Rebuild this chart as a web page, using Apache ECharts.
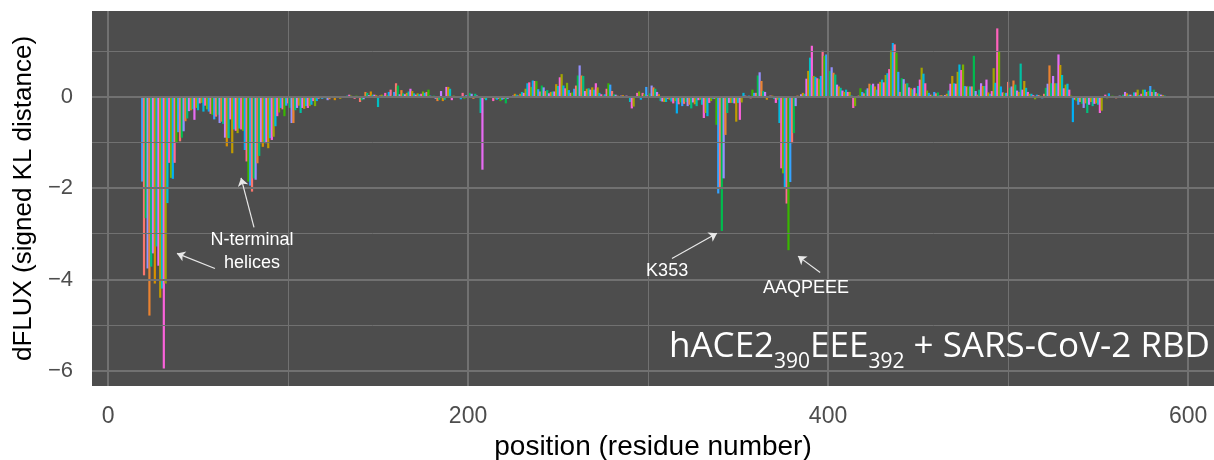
<!DOCTYPE html>
<html>
<head>
<meta charset="utf-8">
<title>dFLUX hACE2 390EEE392</title>
<script src="https://cdn.jsdelivr.net/npm/echarts@6/dist/echarts.min.js"></script>
<style>
  html, body { margin: 0; padding: 0; background: #fff; }
  #chart { width: 1214px; height: 460px; }
</style>
</head>
<body>
<div id="chart"></div>
<script>
// dFLUX per residue (one value per position)
const helixStart = 19; // 19-118, N-terminal helices
const helixValues = [
  -1.86, -3.91, -2.66, -3.76, -4.79, -3.72, -3.43, -4.09, -3.28, -3.70,
  -4.40, -4.20, -5.95, -4.09, -2.33, -1.45, -1.78, -1.80, -1.45, -1.00,
  -0.78, -0.98, -0.90, -0.76, -0.54, -0.48, -0.32, -0.30, -0.28, -0.51,
  -0.25, -0.30, -0.15, -0.14, -0.33, -0.20, -0.28, -0.33, -0.38, -0.40,
  -0.50, -0.44, -0.40, -0.58, -0.55, -0.60, -0.90, -1.09, -0.91, -0.50,
  -1.24, -0.72, -0.75, -0.80, -0.70, -0.72, -0.75, -1.17, -1.42, -1.86,
  -1.95, -2.08, -1.79, -1.82, -1.46, -1.30, -1.02, -1.10, -1.02, -1.02,
  -1.13, -0.91, -0.95, -0.88, -0.65, -0.43, -0.35, -0.25, -0.28, -0.43,
  -0.20, -0.15, -0.25, -0.58, -0.58, -0.30, -0.25, -0.20, -0.36, -0.25,
  -0.27, -0.21, -0.25, -0.21, -0.18, -0.10, -0.21, -0.10, -0.05, -0.04,
];
const midStart = 119; // 119-228
const midValues = [
  -0.05, -0.03, -0.04, -0.08, -0.06, -0.03, -0.03, -0.08, -0.02, -0.03,
  -0.05, -0.02, 0.01, -0.02, 0.02, 0.04, 0.02, -0.01, -0.05, 0.02,
  0.01, -0.12, -0.08, -0.06, 0.10, 0.08, 0.03, 0.11, 0.04, 0.04,
  0.03, -0.23, 0.02, 0.04, 0.02, 0.08, 0.03, 0.10, 0.15, 0.02,
  0.10, 0.29, 0.24, 0.05, 0.14, 0.07, 0.05, 0.08, 0.11, 0.17,
  0.12, 0.07, 0.04, 0.07, 0.05, 0.06, 0.11, 0.08, 0.10, 0.15,
  0.02, 0.01, 0.02, -0.05, -0.10, -0.07, 0.12, -0.10, -0.07, 0.21,
  0.21, 0.17, -0.08, 0.02, 0.01, -0.03, 0.01, -0.06, 0.08, -0.05,
  0.03, 0.05, 0.08, 0.06, -0.05, 0.06, 0.02, 0.01, -0.36, -1.60,
  -0.05, -0.08, -0.02, -0.03, -0.02, -0.10, -0.05, -0.07, -0.05, -0.10,
  -0.07, -0.05, -0.15, -0.05, -0.02, 0.01, 0.02, 0.06, 0.04, 0.02,
];
const loopStart = 229; // 229-328
const loopValues = [
  0.06, 0.10, 0.08, 0.17, 0.29, 0.31, 0.21, 0.35, 0.34, 0.34,
  0.16, 0.11, 0.24, 0.20, 0.12, 0.14, 0.07, 0.10, 0.11, 0.11,
  0.27, 0.23, 0.42, 0.49, 0.24, 0.18, 0.30, 0.14, 0.08, 0.09,
  0.17, 0.24, 0.46, 0.68, 0.46, 0.45, 0.12, 0.17, 0.18, 0.15,
  0.20, 0.15, 0.29, 0.20, 0.08, 0.05, 0.02, 0.05, 0.17, 0.29,
  0.26, 0.12, 0.05, 0.04, 0.02, 0.01, 0.02, 0.03, 0.01, 0.02,
  -0.03, -0.12, -0.26, -0.22, -0.02, 0.08, 0.11, -0.07, 0.08, 0.05,
  0.21, 0.03, 0.07, 0.24, 0.20, 0.17, 0.10, 0.05, -0.10, -0.11,
  -0.12, -0.12, -0.05, -0.07, -0.11, -0.15, -0.10, -0.37, -0.17, -0.13,
  -0.21, -0.16, -0.12, -0.21, -0.18, -0.26, -0.13, -0.17, -0.21, -0.08,
];
const interfaceStart = 329; // 329-398, K353 and AAQPEEE dips
const interfaceValues = [
  -0.07, -0.18, -0.47, -0.36, -0.43, -0.14, -0.10, -0.05, -0.05, -0.62,
  -2.12, -2.02, -2.94, -1.79, -0.84, -0.36, -0.14, -0.14, -0.14, -0.15,
  -0.55, -0.14, -0.51, -0.13, 0.08, 0.02, 0.01, 0.02, -0.04, 0.15,
  0.08, 0.08, 0.46, 0.53, 0.34, 0.12, 0.10, -0.07, 0.01, 0.02,
  0.02, -0.05, -0.14, -0.07, -0.58, -1.57, -1.68, -2.00, -2.34, -3.36,
  -1.87, -1.02, -0.80, -0.21, 0.02, 0.01, 0.05, 0.08, 0.06, 0.39,
  0.56, 0.85, 1.11, 0.45, 0.43, 0.40, 0.38, 0.45, 1.00, 0.89,
];
const peptidaseStart = 399; // 399-498
const peptidaseValues = [
  0.92, 0.30, 0.56, 0.64, 0.52, 0.48, 0.26, 0.22, 0.19, 0.13,
  0.10, 0.15, 0.10, 0.10, 0.02, -0.25, -0.21, 0.01, 0.02, 0.18,
  0.10, 0.07, 0.15, 0.18, 0.28, 0.25, 0.28, 0.22, 0.15, 0.28,
  0.32, 0.37, 0.31, 0.47, 0.51, 0.60, 1.01, 1.17, 1.14, 0.96,
  0.54, 0.10, 0.40, 0.38, 0.28, 0.29, 0.20, 0.18, 0.16, 0.19,
  0.07, 0.23, 0.37, 0.63, 0.50, 0.29, 0.13, 0.08, 0.04, 0.03,
  0.10, 0.07, 0.09, 0.02, 0.03, 0.02, 0.03, 0.06, 0.13, 0.28,
  0.45, 0.29, 0.28, 0.54, 0.70, 0.58, 0.70, 0.23, 0.22, 0.22,
  0.22, 0.22, 0.89, 0.12, 0.04, 0.15, 0.29, 0.23, 0.23, 0.37,
  0.09, 0.06, 0.12, 0.62, 0.30, 1.49, 0.98, 0.22, 0.09, 0.08,
];
const tailStart = 499; // 499-587
const tailValues = [
  0.08, 0.32, 0.19, 0.22, 0.35, 0.26, 0.13, 0.10, 0.72, 0.15,
  0.34, 0.19, 0.10, 0.06, 0.06, 0.03, -0.06, 0.04, 0.03, 0.02,
  -0.04, 0.06, 0.19, 0.28, 0.68, 0.29, 0.45, 0.29, 0.29, 0.92,
  0.69, 0.47, 0.18, 0.26, 0.28, 0.15, 0.02, -0.56, -0.07, -0.10,
  -0.18, -0.12, -0.16, -0.25, -0.15, -0.36, -0.18, -0.12, -0.21, -0.16,
  -0.15, -0.18, -0.36, -0.31, 0.01, 0.04, -0.04, 0.07, 0.01, 0.02,
  0.01, -0.04, -0.03, 0.02, 0.01, 0.04, 0.10, 0.07, 0.04, 0.04,
  0.02, 0.09, 0.09, 0.15, 0.03, 0.06, 0.15, 0.15, 0.10, 0.12,
  0.23, 0.10, 0.15, 0.10, 0.07, 0.06, 0.04, 0.03, 0.02,
];

// axis ticks / grid
const xTicks = [0, 200, 400, 600];
const xMinor = [100, 300, 500];
const yTicks = [-6, -4, -2, 0];
const yMinor = [-5, -3, -1, 1];

// ggplot hue palette, 20 levels
const hue20 = [
  '#F8766D', '#EA8331', '#D89000', '#C09B00', '#A3A500', '#7CAE00', '#39B600',
  '#00BB4E', '#00BF7D', '#00C1A3', '#00BFC4', '#00BAE0', '#00B0F6', '#35A2FF',
  '#9590FF', '#C77CFF', '#E76BF3', '#FA62DB', '#FF62BC', '#FF6C91',
];

const barData = [];
[
  [helixStart, helixValues],
  [midStart, midValues],
  [loopStart, loopValues],
  [interfaceStart, interfaceValues],
  [peptidaseStart, peptidaseValues],
  [tailStart, tailValues],
].forEach(([start, vals]) => {
  vals.forEach((v, i) => barData.push([start + i, v]));
});

const FONT = 'Liberation Sans';
const gridColor = '#717171';

const gridLines = [];
yTicks.forEach((v) => gridLines.push({ yAxis: v, lineStyle: { width: 2 } }));
yMinor.forEach((v) => gridLines.push({ yAxis: v, lineStyle: { width: 1 } }));
xTicks.forEach((v) => gridLines.push({ xAxis: v, lineStyle: { width: 2 } }));
xMinor.forEach((v) => gridLines.push({ xAxis: v, lineStyle: { width: 1 } }));

const minusFmt = (v) => (v < 0 ? '\u2212' + Math.abs(v) : String(v));

const chart = echarts.init(document.getElementById('chart'));
const option = {
  animation: false,
  grid: {
    left: 92,
    right: 0,
    top: 11,
    bottom: 74,
    outerBoundsMode: 'none',
    containLabel: false,
    show: true,
    backgroundColor: '#4d4d4d',
    borderWidth: 0,
  },
  xAxis: {
    type: 'value',
    min: -8.9,
    max: 614.4,
    name: 'position (residue number)',
    nameLocation: 'middle',
    nameGap: 47,
    nameTextStyle: { fontFamily: FONT, fontSize: 28, color: '#000' },
    axisLine: { show: false },
    axisTick: { show: true, length: 7, customValues: xTicks, lineStyle: { color: '#333', width: 1.5 } },
    axisLabel: { customValues: xTicks, margin: 19, fontFamily: FONT, fontSize: 23, color: '#4d4d4d' },
    splitLine: { show: false },
  },
  yAxis: {
    type: 'value',
    min: -6.33,
    max: 1.87,
    name: 'dFLUX (signed KL distance)',
    nameLocation: 'middle',
    nameRotate: 90,
    nameGap: 53,
    nameTextStyle: { fontFamily: FONT, fontSize: 26, color: '#000' },
    axisLine: { show: false },
    axisTick: { show: true, length: 7, customValues: yTicks, lineStyle: { color: '#333', width: 1.5 } },
    axisLabel: { customValues: yTicks, margin: 19, fontFamily: FONT, fontSize: 22, color: '#4d4d4d', formatter: minusFmt },
    splitLine: { show: false },
  },
  series: [
    {
      // panel grid lines, under the bars
      type: 'line',
      data: [],
      z: 1,
      silent: true,
      markLine: {
        silent: true,
        symbol: ['none', 'none'],
        label: { show: false },
        lineStyle: { color: gridColor, type: 'solid' },
        data: gridLines,
      },
    },
    {
      type: 'bar',
      data: barData,
      barWidth: 2.2,
      z: 2,
      itemStyle: {
        color(params) {
          return hue20[(params.data[0] * 7) % 20];
        },
      },
    },
    {
      // annotations
      type: 'line',
      data: [],
      z: 5,
      silent: true,
      markLine: {
        silent: true,
        symbol: ['none', 'arrow'],
        symbolSize: 8,
        label: { show: false },
        lineStyle: { color: '#e8e8e8', width: 1.2, type: 'solid' },
        data: [
          [{ coord: [59.4, -3.76] }, { coord: [38.3, -3.43] }],
          [{ coord: [81.1, -2.86] }, { coord: [73.9, -1.78] }],
          [{ coord: [313.3, -3.54] }, { coord: [338.3, -2.99] }],
          [{ coord: [395.6, -3.85] }, { coord: [383.3, -3.49] }],
        ],
      },
      markPoint: {
        silent: true,
        symbol: 'circle',
        symbolSize: 1,
        itemStyle: { color: 'rgba(0,0,0,0)' },
        label: {
          show: true,
          position: 'inside',
          color: '#ffffff',
          fontFamily: FONT,
          fontSize: 18,
          lineHeight: 23,
          formatter: '{b}',
        },
        data: [
          { name: 'N-terminal\nhelices', coord: [80, -3.38] },
          { name: 'K353', coord: [310.6, -3.82] },
          { name: 'AAQPEEE', coord: [387.8, -4.18] },
        ],
      },
    },
  ],
  graphic: [
    {
      type: 'text',
      x: 1210,
      y: 373,
      z: 10,
      style: {
        text: '{m|hACE2}{s|390}{m|EEE}{s|392}{m| + SARS-CoV-2 RBD}',
        align: 'right',
        verticalAlign: 'bottom',
        rich: {
          m: { fontFamily: 'Open Sans', fontSize: 35, fill: '#ffffff', verticalAlign: 'bottom', padding: [0, 0, 8, 0] },
          s: { fontFamily: 'Open Sans', fontSize: 21, fill: '#ffffff', verticalAlign: 'bottom' },
        },
      },
    },
  ],
};
chart.setOption(option);
</script>
</body>
</html>
